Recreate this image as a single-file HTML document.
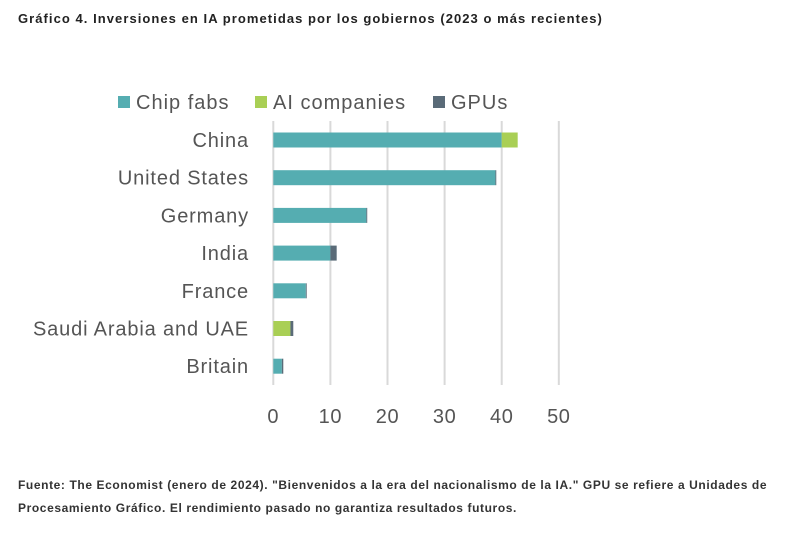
<!DOCTYPE html>
<html><head><meta charset="utf-8"><style>
body{margin:0;background:#fff;width:809px;height:536px;overflow:hidden;font-family:"Liberation Sans",sans-serif}
.t{position:absolute;left:18px;top:11px;font-size:13px;font-weight:bold;color:#222;letter-spacing:1.05px}
.f{position:absolute;left:18px;top:474px;font-size:12px;font-weight:bold;color:#333;line-height:23px;width:770px;letter-spacing:0.6px}
svg text{letter-spacing:1px}
svg text.cat{letter-spacing:0.85px}
svg text.tick{letter-spacing:0.6px}
</style></head><body>
<div class="t">Gráfico 4. Inversiones en IA prometidas por los gobiernos (2023 o más recientes)</div>
<svg id="c" width="809" height="536" style="position:absolute;left:0;top:0"></svg>
<div class="f">Fuente: The Economist (enero de 2024). "Bienvenidos a la era del nacionalismo de la IA." GPU se refiere a Unidades de Procesamiento Gráfico. El rendimiento pasado no garantiza resultados futuros.</div>
<script>
const categories=["China","United States","Germany","India","France","Saudi Arabia and UAE","Britain"];
const chipFabs=[40,38.9,16.3,10,5.7,0,1.5];
const aiCompanies=[2.8,0,0,0,0,3,0];
const gpus=[0,0.15,0.15,1.1,0.15,0.5,0.25];
const ticks=[0,10,20,30,40,50];
const seriesNames=["Chip fabs","AI companies","GPUs"];
const colors=["#55adb1","#a9cf55","#5a6b78"];
const svg=document.getElementById('c');const NS="http://www.w3.org/2000/svg";
const x=v=>273.3+v*5.71;
const y=i=>140+i*37.7;
function mk(t,a,p){const e=document.createElementNS(NS,t);for(const k in a)e.setAttribute(k,a[k]);(p||svg).appendChild(e);return e;}
ticks.forEach(t=>{
 const l=mk('line',{x1:x(t),x2:x(t),y1:121,y2:385,stroke:'#d9d9d9','stroke-width':2});
 
 
 const tx=mk('text',{x:x(t),y:423,'text-anchor':'middle','font-size':20,fill:'#555',class:'tick'});tx.textContent=t;
 
 
});
const series=[chipFabs,aiCompanies,gpus];
categories.forEach((c,i)=>{
 const tx=mk('text',{x:249,y:y(i)+7,'text-anchor':'end','font-size':20,fill:'#555',class:'cat'});tx.textContent=c;
 
 
 let acc=0;
 series.forEach((s,k)=>{
  if(s[i]>0){const r=mk('rect',{x:x(acc),y:y(i)-7.5,width:x(acc+s[i])-x(acc),height:15,fill:colors[k]});
  
  }
  acc+=s[i];
 });
});
const lx=[118,255,433];
seriesNames.forEach((n,k)=>{
 const g=mk('g',{});
 
 
 mk('rect',{x:lx[k],y:96,width:12,height:12,fill:colors[k]},g);
 const t=mk('text',{x:lx[k]+18,y:109,'font-size':20,fill:'#555'},g);t.textContent=n;
});
</script>
</body></html>
